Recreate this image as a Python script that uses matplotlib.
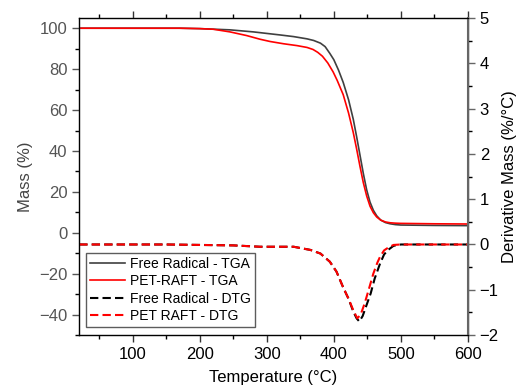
import matplotlib
matplotlib.use('Agg')
import matplotlib.pyplot as plt
from matplotlib.ticker import MultipleLocator

plt.rcParams['font.family'] = ['Liberation Sans', 'DejaVu Sans']

# TGA curves, mass (%) vs temperature (C)
fr_tga_t = [20, 100, 170, 200, 245, 280, 320, 340, 360, 370, 380, 387, 394, 400, 407, 414, 422, 429, 434, 439, 444, 449, 454, 459, 464, 470, 477, 484, 492, 500, 550, 600]
fr_tga_m = [100, 100, 100, 99.8, 99.2, 98.2, 96.7, 95.9, 94.8, 94.0, 92.7, 91.0, 87.7, 84.6, 79.5, 73.5, 65, 55.5, 47, 38, 29, 21, 15, 11, 8.3, 6.2, 5.0, 4.4, 4.0, 3.8, 3.6, 3.5]

pr_tga_t = [20, 170, 200, 220, 245, 270, 290, 305, 325, 345, 360, 369, 376, 383, 391, 399, 405, 414, 422, 429, 434, 439, 444, 449, 454, 459, 464, 470, 477, 484, 492, 500, 550, 600]
pr_tga_m = [100, 100, 99.8, 99.5, 98.2, 96.4, 94.6, 93.5, 92.4, 91.5, 90.6, 89.6, 88.2, 86.3, 83, 78.6, 74.5, 67.5, 58.5, 49, 41, 32.5, 24.5, 18, 13, 9.8, 7.7, 6.2, 5.3, 4.9, 4.7, 4.6, 4.4, 4.3]

# DTG curves, derivative mass (%/C)
fr_dtg_t = [20, 150, 250, 290, 340, 365, 380, 394, 404, 414, 422, 429, 434, 438, 443, 449, 455, 461, 469, 475, 481, 489, 500, 600]
fr_dtg_d = [0, 0, -0.02, -0.05, -0.05, -0.12, -0.2, -0.38, -0.6, -0.95, -1.2, -1.48, -1.63, -1.70, -1.58, -1.33, -1.08, -0.75, -0.42, -0.22, -0.12, -0.03, 0, 0]

pr_dtg_t = [20, 150, 250, 290, 340, 365, 380, 394, 404, 414, 422, 429, 435, 440, 446, 452, 459, 465, 469, 475, 481, 489, 500, 600]
pr_dtg_d = [0, 0, -0.02, -0.05, -0.05, -0.12, -0.2, -0.38, -0.6, -0.95, -1.2, -1.45, -1.63, -1.55, -1.3, -1.0, -0.64, -0.4, -0.27, -0.13, -0.07, -0.01, 0, 0]

labels = ['Free Radical - TGA', 'PET-RAFT - TGA', 'Free Radical - DTG', 'PET RAFT - DTG']

fig = plt.figure(figsize=(5.21, 3.91), dpi=100)
ax = fig.add_axes([0.152, 0.143, 0.746, 0.811])
ax2 = ax.twinx()

l1, = ax.plot(fr_tga_t, fr_tga_m, color='#404040', lw=1.2, label=labels[0])
l2, = ax.plot(pr_tga_t, pr_tga_m, color='#ff0000', lw=1.2, label=labels[1])
l3, = ax2.plot(fr_dtg_t, fr_dtg_d, color='black', lw=1.5, dashes=(4, 2), label=labels[2])
l4, = ax2.plot(pr_dtg_t, pr_dtg_d, color='#ff0000', lw=1.5, dashes=(4, 2), label=labels[3])

ax.set_xlim(20, 600)
ax.set_ylim(-50, 105)
ax2.set_ylim(-2, 5)

ax.xaxis.set_major_locator(MultipleLocator(100))
ax.xaxis.set_minor_locator(MultipleLocator(50))
ax.yaxis.set_major_locator(MultipleLocator(20))
ax.yaxis.set_minor_locator(MultipleLocator(10))
ax2.yaxis.set_major_locator(MultipleLocator(1))
ax2.yaxis.set_minor_locator(MultipleLocator(0.5))

for a in (ax, ax2):
    a.tick_params(which='major', direction='out', length=5, width=1, labelsize=12)
    a.tick_params(which='minor', direction='out', length=3, width=1)
ax.tick_params(which='both', top=True)
ax.tick_params(axis='y', colors='#555555')
ax.tick_params(axis='x', colors='#333333', labelcolor='black')
ax2.tick_params(axis='y', colors='#666666', labelcolor='black')

for s in ax.spines.values():
    s.set_linewidth(1)
    s.set_color('#333333')
ax2.spines['right'].set_color('#666666')
ax2.spines['right'].set_linewidth(1.5)

ax.set_xlabel('Temperature (\u00b0C)', fontsize=12, labelpad=6)
ax.set_ylabel('Mass (%)', fontsize=12, color='#444444', labelpad=4)
ax2.set_ylabel('Derivative Mass (%/\u00b0C)', fontsize=12, labelpad=2)

leg = ax2.legend(handles=[l1, l2, l3, l4], loc='upper left', bbox_to_anchor=(0.017, 0.26),
                 borderaxespad=0, fontsize=10, frameon=True, fancybox=False,
                 handlelength=2.5, labelspacing=0.25, borderpad=0.3, handletextpad=0.35)
leg.get_frame().set_edgecolor('#333333')
leg.get_frame().set_linewidth(1)

fig.savefig('out.png', dpi=100)
